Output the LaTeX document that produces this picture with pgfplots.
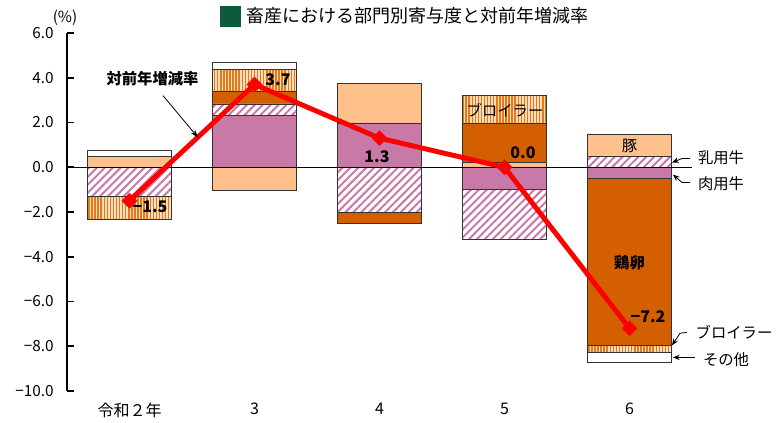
\documentclass[border=0pt]{standalone}
\usepackage{fontspec}
\setmainfont{Noto Sans CJK JP}
\usepackage{pgfplots}
\pgfplotsset{compat=1.18}
\usetikzlibrary{patterns.meta,arrows.meta}
\definecolor{niku}{HTML}{C979A8}
\definecolor{nyuu}{HTML}{C979A8}
\definecolor{buta}{HTML}{FFC18C}
\definecolor{tama}{HTML}{D45F00}
\definecolor{broi}{HTML}{E27A1A}
\definecolor{broibg}{HTML}{FFDDBD}
\definecolor{tgreen}{HTML}{0E5A3C}
\definecolor{edge}{HTML}{333333}

\pgfplotsset{
  base/.style={at={(0,0)}, anchor=south west, scale only axis,
    width=468.75pt, height=268.5pt, xmin=-0.5, xmax=4.5, ymin=-10, ymax=6},
  bars/.style={ybar stacked, bar width=62.6pt},
  s1/.style={fill=niku, draw=edge, line width=0.6pt},
  s2/.style={fill=white, draw=edge, line width=0.6pt,
    postaction={pattern={Lines[angle=45,distance=4.2pt,line width=1.5pt]}, pattern color=nyuu}},
  s3/.style={fill=buta, draw=edge, line width=0.6pt},
  s4/.style={fill=tama, draw=edge, line width=0.6pt},
  s5/.style={fill=broibg, draw=edge, line width=0.6pt,
    postaction={pattern={Lines[angle=90,distance=2.3pt,line width=1.1pt]}, pattern color=broi}},
  s6/.style={fill=white, draw=edge, line width=0.6pt},
}
\newcommand{\lbl}{\fontsize{11.5}{13}\selectfont}
\newcommand{\num}{\fontsize{12}{13}\selectfont\bfseries}

\begin{document}
\begin{tikzpicture}
\path[use as bounding box] (-50.25pt,-24pt) rectangle (537.75pt,293.25pt);

% positive contributions
\begin{axis}[base, bars,
  axis lines*=left,
  x axis line style={draw=none},
  y axis line style={line width=1.3pt, -},
  xtick={0,1,2,3,4}, xticklabels={令和２年,3,4,5,6},
  xtick style={draw=none},
  ytick={-10,-8,-6,-4,-2,0,2,4,6},
  yticklabels={−10.0,−8.0,−6.0,−4.0,−2.0,0.0,2.0,4.0,6.0},
  ytick style={line width=1.2pt, black},
  tick align=inside, major tick length=5pt,
  yticklabel style={font=\fontsize{11.5}{12}\selectfont, xshift=-6.5pt},
  xticklabel style={font=\fontsize{12}{13}\selectfont, yshift=-5.5pt},
]
\addplot[s1] coordinates {(0,0) (1,2.32) (2,1.98) (3,0) (4,0)};
\addplot[s2] coordinates {(0,0) (1,0.51) (2,0) (3,0) (4,0.48)};
\addplot[s3] coordinates {(0,0.48) (1,0) (2,1.77) (3,0.22) (4,1.01)};
\addplot[s4] coordinates {(0,0) (1,0.55) (2,0) (3,1.74) (4,0)};
\addplot[s5] coordinates {(0,0) (1,1.01) (2,0) (3,1.24) (4,0)};
\addplot[s6] coordinates {(0,0.27) (1,0.28) (2,0) (3,0) (4,0)};
\end{axis}

% negative contributions
\begin{axis}[base, bars, hide axis]
\addplot[s1] coordinates {(0,0) (1,0) (2,0) (3,-1.00) (4,-0.52)};
\addplot[s2] coordinates {(0,-1.31) (1,0) (2,-2.00) (3,-2.24) (4,0)};
\addplot[s3] coordinates {(0,0) (1,-1.05) (2,0) (3,0) (4,0)};
\addplot[s4] coordinates {(0,0) (1,0) (2,-0.53) (3,0) (4,-7.44)};
\addplot[s5] coordinates {(0,-1.04) (1,0) (2,0) (3,0) (4,-0.30)};
\addplot[s6] coordinates {(0,0) (1,0) (2,0) (3,0) (4,-0.44)};
\end{axis}

% total line and annotations
\begin{axis}[base, hide axis, clip=false]
\draw[line width=1.1pt, black] (axis cs:-0.5,0) -- (axis cs:4.5,0);
\addplot[red, line width=3.7pt, mark=square*, mark size=3.9pt,
  mark options={rotate=45, fill=red, draw=red, line width=0.5pt}]
  coordinates {(0,-1.5) (1,3.7) (2,1.3) (3,0.0) (4,-7.2)};

\node[anchor=west, inner sep=0pt] at (axis cs:0.724,6.73)
  {\textcolor{tgreen}{\rule[-3pt]{15.5pt}{15.5pt}}\hspace{4pt}{\fontsize{13.5}{15}\selectfont 畜産における部門別寄与度と対前年増減率}};
\node[inner sep=0pt] at (axis cs:-0.516,6.68) {\fontsize{11.5}{12}\selectfont (\%)};

\node[inner sep=0pt] at (axis cs:0.184,3.96) {\lbl\bfseries 対前年増減率};
\draw[-{Stealth[length=6pt,width=4pt]}, line width=0.6pt] (axis cs:0.268,3.2) -- (axis cs:0.548,1.33);

\node[inner sep=0pt] at (axis cs:1.188,3.91) {\num 3.7};
\node[inner sep=0pt] at (axis cs:1.98,0.48) {\num 1.3};
\node[inner sep=0pt] at (axis cs:3.148,0.66) {\num 0.0};
\node[inner sep=0pt] at (axis cs:0.164,-1.76) {\num −1.5};
\node[inner sep=0pt] at (axis cs:4.148,-6.67) {\num −7.2};

\node[inner sep=0pt] at (axis cs:3.004,2.53) {\lbl ブロイラー};
\node[inner sep=0pt] at (axis cs:4.0,0.97) {\lbl 豚};
\node[inner sep=0pt] at (axis cs:4.0,-4.26) {\lbl\bfseries 鶏卵};

\node[inner sep=0pt] at (axis cs:4.732,0.43) {\lbl 乳用牛};
\draw[-{Stealth[length=5pt,width=4pt]}, line width=0.6pt] (axis cs:4.484,0.39) -- (axis cs:4.42,0.39) -- (axis cs:4.34,0.21);
\node[inner sep=0pt] at (axis cs:4.732,-0.73) {\lbl 肉用牛};
\draw[-{Stealth[length=5pt,width=4pt]}, line width=0.6pt] (axis cs:4.484,-0.68) -- (axis cs:4.42,-0.68) -- (axis cs:4.348,-0.33);
\node[inner sep=0pt] at (axis cs:4.836,-7.38) {\lbl ブロイラー};
\draw[-{Stealth[length=5pt,width=4pt]}, line width=0.6pt] (axis cs:4.46,-7.38) -- (axis cs:4.404,-7.42) -- (axis cs:4.34,-7.96);
\node[inner sep=0pt] at (axis cs:4.772,-8.59) {\lbl その他};
\draw[-{Stealth[length=5pt,width=4pt]}, line width=0.6pt] (axis cs:4.524,-8.5) -- (axis cs:4.348,-8.5);
\end{axis}
\end{tikzpicture}
\end{document}
